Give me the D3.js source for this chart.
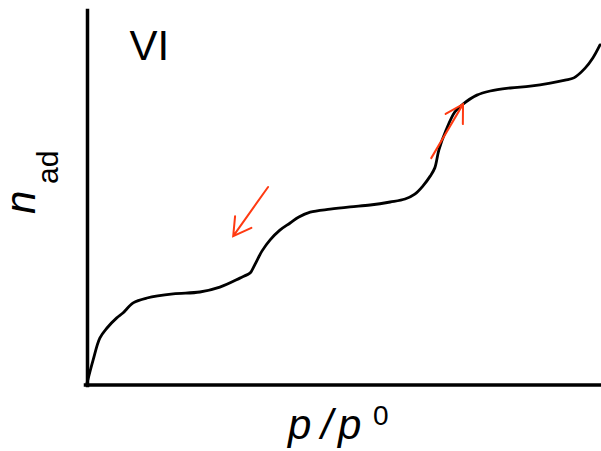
<!DOCTYPE html>
<html>
<head>
<meta charset="utf-8">
<script src="https://cdn.jsdelivr.net/npm/d3@7"></script>
<style>
  html, body { margin: 0; padding: 0; background: #fff; }
  svg { display: block; }
  text { font-family: "Liberation Sans", Arial, sans-serif; fill: #000; }
</style>
</head>
<body>
<script>
// Relative pressure p/p0 (0..1) and amount adsorbed n_ad (arbitrary units 0..1)
const pRel = [0, 0.012, 0.025, 0.039, 0.058, 0.070, 0.090, 0.117, 0.168, 0.220, 0.259, 0.298, 0.318,
  0.322, 0.331, 0.341, 0.357, 0.376, 0.396, 0.413, 0.435, 0.474, 0.513, 0.552, 0.591, 0.620, 0.639,
  0.655, 0.669, 0.678, 0.686, 0.700, 0.717, 0.733, 0.760, 0.786, 0.825, 0.864, 0.903, 0.932, 0.949,
  0.971, 0.986, 1.0];
const nAd = [0.005, 0.067, 0.125, 0.152, 0.179, 0.192, 0.219, 0.232, 0.243, 0.248, 0.261, 0.285, 0.299,
  0.307, 0.331, 0.357, 0.387, 0.413, 0.432, 0.448, 0.461, 0.469, 0.475, 0.480, 0.488, 0.496, 0.509,
  0.531, 0.557, 0.579, 0.627, 0.680, 0.728, 0.749, 0.773, 0.784, 0.792, 0.797, 0.805, 0.813, 0.819,
  0.845, 0.872, 0.907];
// Arrows: [fromP, fromN, toP, toN]
const arrows = [
  [0.353, 0.528, 0.285, 0.397],
  [0.671, 0.605, 0.733, 0.749]
];
const typeLabel = "VI";
const yLabelMain = "n", yLabelSub = "ad";
const xLabelParts = ["p", "/", "p", "0"];

const W = 601, H = 451;
const svg = d3.select("body").append("svg").attr("width", W).attr("height", H);

const x = d3.scaleLinear().domain([0, 1]).range([87, 600]);
const y = d3.scaleLinear().domain([0, 1]).range([385, 10]);

// Axes (lines only, no ticks)
const xAxis = d3.axisBottom(x).tickValues([]).tickSizeOuter(0);
const yAxis = d3.axisLeft(y).tickValues([]).tickSizeOuter(0);
const gx = svg.append("g").attr("transform", `translate(0,${y(0)})`).call(xAxis);
const gy = svg.append("g").attr("transform", `translate(${x(0)},0)`).call(yAxis);
[gx, gy].forEach(g => g.select(".domain").attr("stroke", "#000").attr("stroke-width", 3.5).attr("stroke-linecap", "square"));
gx.select(".domain").attr("d", `M${x(0) - 1.5},0H${x(1)}`);

// Isotherm curve
const line = d3.line().x((d, i) => x(pRel[i])).y((d, i) => y(nAd[i])).curve(d3.curveCatmullRom.alpha(0.5));
svg.append("path").datum(pRel).attr("d", line)
  .attr("fill", "none").attr("stroke", "#000").attr("stroke-width", 2.8)
  .attr("stroke-linejoin", "round").attr("stroke-linecap", "round");

// Arrows
const red = "#ff3a12";
arrows.forEach(a => {
  const x1 = x(a[0]), y1 = y(a[1]), x2 = x(a[2]), y2 = y(a[3]);
  const ang = Math.atan2(y1 - y2, x1 - x2);
  const L = 20, da = 30 * Math.PI / 180;
  const b1 = [x2 + L * Math.cos(ang + da), y2 + L * Math.sin(ang + da)];
  const b2 = [x2 + L * Math.cos(ang - da), y2 + L * Math.sin(ang - da)];
  svg.append("path")
    .attr("d", `M${x1},${y1}L${x2},${y2}M${b1[0]},${b1[1]}L${x2},${y2}L${b2[0]},${b2[1]}`)
    .attr("fill", "none").attr("stroke", red).attr("stroke-width", 2)
    .attr("stroke-linecap", "round").attr("stroke-linejoin", "miter");
});

// Type label
svg.append("text").attr("x", 129.5).attr("y", 60).attr("font-size", 42).text(typeLabel);

// Y label (rotated)
const yl = svg.append("g").attr("transform", "translate(35,214) rotate(-90)");
yl.append("text").attr("x", 0).attr("y", 0).attr("font-size", 42).attr("font-style", "italic").text(yLabelMain);
yl.append("text").attr("x", 30).attr("y", 23).attr("font-size", 30).text(yLabelSub);

// X label
const xl = svg.append("text").attr("y", 439).attr("font-size", 42);
xl.append("tspan").attr("x", 288).attr("font-style", "italic").text(xLabelParts[0]);
xl.append("tspan").attr("x", 321).attr("font-style", "italic").text(xLabelParts[1]);
xl.append("tspan").attr("x", 338).attr("font-style", "italic").text(xLabelParts[2]);
xl.append("tspan").attr("x", 373).attr("y", 425).attr("font-size", 28).text(xLabelParts[3]);
</script>
</body>
</html>
